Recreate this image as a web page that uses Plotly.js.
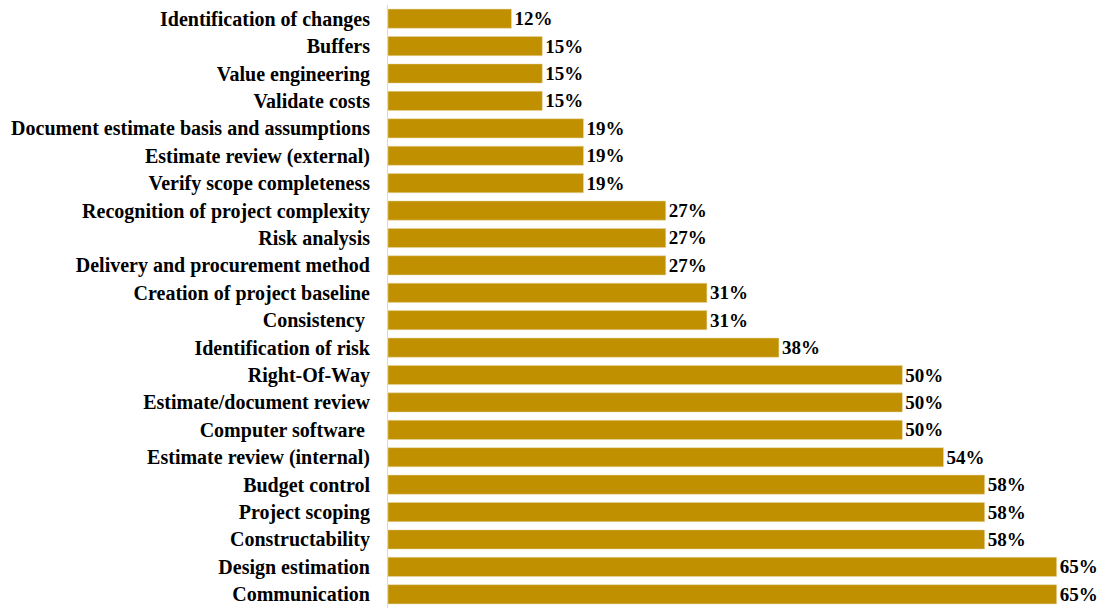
<!DOCTYPE html>
<html>
<head>
<meta charset="utf-8">
<script src="https://cdn.plot.ly/plotly-3.0.1.min.js"></script>
<style>html,body{margin:0;padding:0;background:#fff;}#chart{width:1112px;height:608px;}</style>
</head>
<body>
<div id="chart"></div>
<script>
const categories = [
  "Identification of changes",
  "Buffers",
  "Value engineering",
  "Validate costs",
  "Document estimate basis and assumptions",
  "Estimate review (external)",
  "Verify scope completeness",
  "Recognition of project complexity",
  "Risk analysis",
  "Delivery and procurement method",
  "Creation of project baseline",
  "Consistency ",
  "Identification of risk",
  "Right-Of-Way",
  "Estimate/document review",
  "Computer software ",
  "Estimate review (internal)",
  "Budget control",
  "Project scoping",
  "Constructability",
  "Design estimation",
  "Communication"
];
const values = [12, 15, 15, 15, 19, 19, 19, 27, 27, 27, 31, 31, 38, 50, 50, 50, 54, 58, 58, 58, 65, 65];
const labels = values.map(v => v + "%");

const fontFam = "'Liberation Serif', 'Times New Roman', serif";

Plotly.newPlot("chart", [{
  type: "bar",
  orientation: "h",
  x: values,
  y: categories,
  text: labels,
  textposition: "outside",
  constraintext: "none",
  cliponaxis: false,
  textfont: {family: fontFam, size: 19, color: "#000", weight: "bold"},
  marker: {color: "#C09000", line: {color: "#e8d9a8", width: 0.5}},
  width: 0.7,
  hoverinfo: "none"
}], {
  width: 1112,
  height: 608,
  margin: {l: 388, r: 7, t: 5, b: 0},
  paper_bgcolor: "#fff",
  plot_bgcolor: "#fff",
  showlegend: false,
  xaxis: {range: [0, 69.7], visible: false, showgrid: false, zeroline: false, fixedrange: true},
  yaxis: {
    autorange: "reversed",
    showline: true,
    linecolor: "#d9d9d9",
    linewidth: 1,
    ticks: "",
    ticklabelstandoff: 13,
    showgrid: false,
    tickfont: {family: fontFam, size: 20, color: "#000", weight: "bold"},
    fixedrange: true
  },
  bargap: 0.3
}, {displayModeBar: false, staticPlot: true});
</script>
</body>
</html>
